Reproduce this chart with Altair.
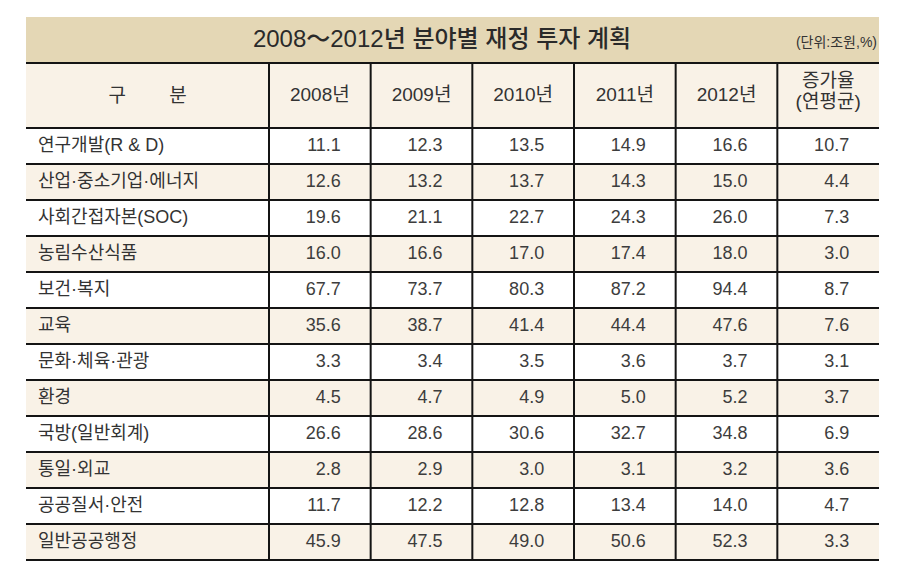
import altair as alt
import pandas as pd

# ---------------- data ----------------
title_text = "2008～2012년 분야별 재정 투자 계획"
unit_text = "(단위:조원,%)"
corner_label = "구　　 분"
columns = ["2008년", "2009년", "2010년", "2011년", "2012년", "증가율\n(연평균)"]
categories = [
    "연구개발(R & D)",
    "산업·중소기업·에너지",
    "사회간접자본(SOC)",
    "농림수산식품",
    "보건·복지",
    "교육",
    "문화·체육·관광",
    "환경",
    "국방(일반회계)",
    "통일·외교",
    "공공질서·안전",
    "일반공공행정",
]
v2008 = [11.1, 12.6, 19.6, 16.0, 67.7, 35.6, 3.3, 4.5, 26.6, 2.8, 11.7, 45.9]
v2009 = [12.3, 13.2, 21.1, 16.6, 73.7, 38.7, 3.4, 4.7, 28.6, 2.9, 12.2, 47.5]
v2010 = [13.5, 13.7, 22.7, 17.0, 80.3, 41.4, 3.5, 4.9, 30.6, 3.0, 12.8, 49.0]
v2011 = [14.9, 14.3, 24.3, 17.4, 87.2, 44.4, 3.6, 5.0, 32.7, 3.1, 13.4, 50.6]
v2012 = [16.6, 15.0, 26.0, 18.0, 94.4, 47.6, 3.7, 5.2, 34.8, 3.2, 14.0, 52.3]
growth = [10.7, 4.4, 7.3, 3.0, 8.7, 7.6, 3.1, 3.7, 6.9, 3.6, 4.7, 3.3]

series = [v2008, v2009, v2010, v2011, v2012, growth]

# ---------------- styles ----------------
FONT = "Liberation Sans, Noto Sans CJK KR, sans-serif"
TEXT = "#333333"
TAN = "#E4D7B5"
CREAM = "#F9F2E7"
LINE = "#141414"
LW = 2

# ---------------- tables ----------------
shade_of = ["w" if i % 2 == 0 else "c" for i in range(len(categories))]
body_rows = []
for i, cat in enumerate(categories):
    for col, vals in zip(columns, series):
        body_rows.append({"row": cat, "col": col, "value": vals[i], "shade": shade_of[i]})
body_df = pd.DataFrame(body_rows)
lab_df = pd.DataFrame({"row": categories, "shade": shade_of, "col": "구분"})
last_df = lab_df.tail(1)
cols_df = pd.DataFrame({"col": columns, "row": "header"})
year_hdr_df = cols_df.iloc[:-1]
rate_hdr_df = cols_df.iloc[-1:]
corner_df = pd.DataFrame({"col": ["구분"], "row": ["header"], "label": [corner_label]})
title_df = pd.DataFrame({"title": [title_text], "unit": [unit_text]})

band = dict(type="band", paddingInner=0, paddingOuter=0)
x_vals = alt.Scale(domain=columns, **band)
x_lab = alt.Scale(domain=["구분"], **band)
y_rows = alt.Scale(domain=categories, **band)
y_hdr = alt.Scale(domain=["header"], **band)
shade_scale = alt.Scale(domain=["w", "c"], range=["#FFFFFF", CREAM])

# ---------------- title band (split over the two grid columns) ----------------
title_left = alt.Chart(title_df).mark_text(fontSize=1).encode(text=alt.value("")).properties(
    width=243, height=46, view=alt.ViewBackground(fill=TAN, strokeWidth=0)
)
title_main = alt.Chart(title_df).mark_text(
    fontSize=24, fontWeight=500, align="center", baseline="middle", color="#2a2a2a"
).encode(x=alt.value(173), y=alt.value(23), text="title:N")
title_unit = alt.Chart(title_df).mark_text(
    fontSize=14, align="right", baseline="middle"
).encode(x=alt.value(608), y=alt.value(26), text="unit:N")
title_right = alt.layer(title_main, title_unit).properties(
    width=610, height=46, view=alt.ViewBackground(fill=TAN, strokeWidth=0)
)

# ---------------- header row ----------------
hdr_left_text = alt.Chart(corner_df).mark_text(fontSize=19, baseline="middle").encode(
    x=alt.X("col:N", scale=x_lab, axis=None),
    y=alt.Y("row:N", scale=y_hdr, axis=None),
    text="label:N",
)
hdr_left_top = alt.Chart(corner_df).mark_rule(color=LINE, strokeWidth=LW).encode(
    y=alt.Y("row:N", scale=y_hdr, axis=None, bandPosition=0)
)
header_left = alt.layer(hdr_left_text, hdr_left_top).properties(
    width=243, height=65, view=alt.ViewBackground(fill=CREAM, strokeWidth=0)
)

hdr_text = alt.Chart(year_hdr_df).mark_text(fontSize=19, baseline="middle", dy=-1).encode(
    x=alt.X("col:N", scale=x_vals, axis=None),
    y=alt.Y("row:N", scale=y_hdr, axis=None),
    text="col:N",
)
rate_text = alt.Chart(rate_hdr_df).mark_text(
    fontSize=19, lineBreak="\n", lineHeight=21, baseline="middle", dy=-15
).encode(
    x=alt.X("col:N", scale=x_vals, axis=None),
    y=alt.Y("row:N", scale=y_hdr, axis=None),
    text="col:N",
)
hdr_vrules = alt.Chart(cols_df).mark_rule(color=LINE, strokeWidth=LW).encode(
    x=alt.X("col:N", scale=x_vals, axis=None, bandPosition=0)
)
hdr_top = alt.Chart(cols_df.head(1)).mark_rule(color=LINE, strokeWidth=LW).encode(
    y=alt.Y("row:N", scale=y_hdr, axis=None, bandPosition=0)
)
header_vals = alt.layer(hdr_text, rate_text, hdr_vrules, hdr_top).properties(
    width=610, height=65, view=alt.ViewBackground(fill=CREAM, strokeWidth=0)
)

# ---------------- body ----------------
bl_rect = alt.Chart(lab_df).mark_rect().encode(
    x=alt.X("col:N", scale=x_lab, axis=None),
    y=alt.Y("row:N", scale=y_rows, axis=None),
    color=alt.Color("shade:N", scale=shade_scale, legend=None),
)
bl_text = alt.Chart(lab_df).mark_text(fontSize=18, align="left", baseline="middle", dx=12).encode(
    x=alt.X("col:N", scale=x_lab, axis=None, bandPosition=0),
    y=alt.Y("row:N", scale=y_rows, axis=None),
    text="row:N",
)
bl_rules = alt.Chart(lab_df).mark_rule(color=LINE, strokeWidth=LW).encode(
    y=alt.Y("row:N", scale=y_rows, axis=None, bandPosition=0)
)
bl_bottom = alt.Chart(last_df).mark_rule(color=LINE, strokeWidth=LW).encode(
    y=alt.Y("row:N", scale=y_rows, axis=None, bandPosition=1)
)
body_left = alt.layer(bl_rect, bl_text, bl_rules, bl_bottom).properties(width=243, height=432)

bv_rect = alt.Chart(body_df).mark_rect().encode(
    x=alt.X("col:N", scale=x_vals, axis=None),
    y=alt.Y("row:N", scale=y_rows, axis=None),
    color=alt.Color("shade:N", scale=shade_scale, legend=None),
)
bv_text = alt.Chart(body_df).mark_text(
    fontSize=18, align="right", baseline="middle", dx=21, color="#3d3d3d"
).encode(
    x=alt.X("col:N", scale=x_vals, axis=None),
    y=alt.Y("row:N", scale=y_rows, axis=None),
    text=alt.Text("value:Q", format=".1f"),
)
bv_hrules = alt.Chart(lab_df).mark_rule(color=LINE, strokeWidth=LW).encode(
    y=alt.Y("row:N", scale=y_rows, axis=None, bandPosition=0)
)
bv_bottom = alt.Chart(last_df).mark_rule(color=LINE, strokeWidth=LW).encode(
    y=alt.Y("row:N", scale=y_rows, axis=None, bandPosition=1)
)
bv_vrules = alt.Chart(cols_df).mark_rule(color=LINE, strokeWidth=LW).encode(
    x=alt.X("col:N", scale=x_vals, axis=None, bandPosition=0)
)
body_vals = alt.layer(bv_rect, bv_text, bv_hrules, bv_bottom, bv_vrules).properties(
    width=610, height=432
)

chart = (
    alt.concat(
        title_left, title_right,
        header_left, header_vals,
        body_left, body_vals,
        columns=2,
        spacing=0,
        bounds="flush",
    )
    .properties(padding={"left": 17, "top": 9, "right": 4, "bottom": 4}, background="#FFFFFF")
    .configure_view(strokeWidth=0)
    .configure_text(font=FONT, color=TEXT)
)

chart.save("out.html", embed_options={"renderer": "svg", "actions": False})
